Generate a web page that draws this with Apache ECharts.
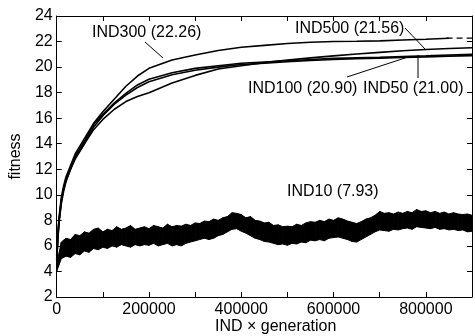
<!DOCTYPE html>
<html><head><meta charset="utf-8">
<script src="https://cdn.jsdelivr.net/npm/echarts@6/dist/echarts.min.js"></script>
<style>html,body{margin:0;padding:0;background:#fff}#c{width:475px;height:336px}</style>
</head><body><div id="c"></div>
<script>
// ---- data ----
var xs = [0, 2500, 5000, 10000, 15000, 20000, 30000, 40000, 60000, 80000, 100000, 125000, 150000, 175000, 200000, 250000, 300000, 350000, 400000, 450000, 500000, 550000, 600000, 650000, 700000, 750000, 800000, 850000, 900000];
var ind300 = [5.2, 7.0, 8.2, 9.8, 10.7, 11.4, 12.3, 13.2, 14.4, 15.6, 16.5, 17.5, 18.5, 19.3, 19.9, 20.55, 20.95, 21.3, 21.55, 21.7, 21.85, 21.95, 22.0, 22.02, 22.05, 22.12, 22.18, 22.26, null];
var ind300TailX = [845000, 900000];
var ind300Tail = [22.27, 22.27];
var ind500 = [4.8, 6.5, 7.8, 9.3, 10.3, 11.0, 12.0, 12.9, 14.0, 15.1, 15.9, 16.7, 17.3, 17.7, 18.0, 18.75, 19.35, 19.85, 20.1, 20.35, 20.55, 20.72, 20.88, 21.02, 21.15, 21.28, 21.38, 21.46, 21.52];
var ind50 = [5.0, 6.8, 8.0, 9.6, 10.5, 11.2, 12.1, 13.0, 14.2, 15.5, 16.3, 17.2, 17.95, 18.6, 19.05, 19.55, 19.9, 20.1, 20.3, 20.4, 20.5, 20.6, 20.68, 20.72, 20.76, 20.82, 20.88, 20.95, 21.0];
var ind100 = [4.9, 6.6, 7.9, 9.5, 10.4, 11.1, 12.0, 12.8, 14.0, 15.3, 16.2, 17.1, 17.8, 18.4, 18.85, 19.4, 19.75, 20.0, 20.2, 20.3, 20.42, 20.52, 20.6, 20.65, 20.7, 20.75, 20.8, 20.86, 20.9];
// IND10 noisy band: x in thousands, lower and upper envelope
var ind10Xk = [0,10,20,30,40,50,60,70,80,90,100,110,120,130,140,150,160,170,180,190,200,210,220,230,240,250,260,270,280,290,300,310,320,330,340,350,360,370,380,390,400,410,420,430,440,450,460,470,480,490,500,510,520,530,540,550,560,570,580,590,600,610,620,630,640,650,660,670,680,690,700,710,720,730,740,750,760,770,780,790,800,810,820,830,840,850,860,870,880,890,900];
var ind10Low = [4.0,5.0,5.2,5.1,5.4,5.3,5.6,5.5,5.8,5.7,5.9,5.8,6.0,5.9,6.1,6.0,5.9,6.1,6.0,6.1,6.05,6.2,6.0,6.1,6.2,6.0,6.1,6.0,6.2,6.3,6.4,6.5,6.6,6.5,6.6,6.8,6.9,7.1,7.3,7.35,7.15,7.0,6.8,6.6,6.5,6.35,6.3,6.2,6.1,6.15,6.05,6.2,6.15,6.3,6.25,6.45,6.4,6.5,6.4,6.6,6.65,6.7,6.6,6.5,6.35,6.3,6.5,6.7,6.9,7.1,7.25,7.2,7.15,7.3,7.25,7.35,7.4,7.3,7.5,7.45,7.4,7.35,7.45,7.3,7.35,7.25,7.3,7.2,7.25,7.1,7.15];
var ind10High = [4.6,6.3,6.6,6.5,6.9,6.8,7.1,7.0,7.3,7.4,7.1,7.3,7.2,7.5,7.3,7.4,7.6,7.3,7.4,7.5,7.35,7.6,7.5,7.4,7.7,7.5,7.6,7.55,7.7,7.6,7.8,7.75,7.95,7.9,8.1,8.0,8.2,8.3,8.6,8.55,8.45,8.2,8.3,8.0,7.95,7.8,7.85,7.6,7.65,7.5,7.55,7.5,7.7,7.6,7.8,7.9,7.85,8.0,7.9,8.1,8.0,8.2,8.1,7.95,7.85,7.75,7.9,8.1,8.2,8.4,8.7,8.55,8.6,8.5,8.65,8.55,8.7,8.6,8.85,8.7,8.75,8.6,8.7,8.55,8.65,8.5,8.6,8.5,8.45,8.5,8.4];
var xTicks = [0, 200000, 400000, 600000, 800000];

// ---- build ----
function pairs(x, y) { return x.map(function (v, i) { return [v, y[i]]; }); }
var ind10X = ind10Xk.map(function (v) { return v * 1000; });
var ind10Data = ind10X.map(function (v, i) { return [v, ind10Low[i], ind10High[i]]; });
var FONT = 'Liberation Sans, Arial, sans-serif';

var chart = echarts.init(document.getElementById('c'), null, { renderer: 'canvas' });
function xAx(pos, show) {
  return {
    type: 'value', min: 0, max: 900000, interval: 100000, position: pos, gridIndex: 0,
    axisLine: { show: true, onZero: false, lineStyle: { color: '#000', width: 1 } },
    axisTick: { show: true, inside: true, length: 5, lineStyle: { color: '#000' } },
    axisLabel: {
      show: show, color: '#000', fontSize: 16, fontFamily: FONT, margin: 5,
      formatter: function (v) { return xTicks.indexOf(v) >= 0 ? String(v) : ''; }
    },
    splitLine: { show: false }
  };
}
function yAx(pos, show) {
  var a = {
    type: 'value', min: 2, max: 24, interval: 2, position: pos, gridIndex: 0,
    axisLine: { show: true, onZero: false, lineStyle: { color: '#000', width: 1 } },
    axisTick: { show: true, inside: true, length: 5, lineStyle: { color: '#000' } },
    axisLabel: { show: show, color: '#000', fontSize: 16, fontFamily: FONT, margin: 4 },
    splitLine: { show: false }
  };
  if (show) {
    a.name = 'fitness'; a.nameLocation = 'middle'; a.nameGap = 25;
    a.nameTextStyle = { color: '#000', fontSize: 16, fontFamily: FONT };
  }
  return a;
}
function line(name, x, y, extra) {
  var s = {
    name: name, type: 'line', xAxisIndex: 0, yAxisIndex: 0, data: pairs(x, y),
    symbol: 'none', silent: true, animation: false,
    lineStyle: { color: '#000', width: 1.6 }
  };
  for (var k in extra) s[k] = extra[k];
  return s;
}
var txt = function (t, x, y) {
  return { type: 'text', x: x, y: y, style: { text: t, font: '16px ' + FONT, fill: '#000', verticalAlign: 'middle', align: 'left' } };
};
var seg = function (x1, y1, x2, y2) {
  return { type: 'line', shape: { x1: x1, y1: y1, x2: x2, y2: y2 }, style: { stroke: '#000', lineWidth: 1 } };
};

chart.setOption({
  animation: false,
  backgroundColor: '#fff',
  grid: { left: 54, right: 2, top: 16, bottom: 39, containLabel: false },
  xAxis: [xAx('bottom', true), xAx('top', false)],
  yAxis: [yAx('left', true), yAx('right', false)],
  series: [
    {
      name: 'IND10', type: 'custom', xAxisIndex: 0, yAxisIndex: 0, silent: true,
      data: ind10Data, encode: { x: 0, y: [1, 2] },
      renderItem: function (params, api) {
        var i = params.dataIndex;
        if (i >= ind10Data.length - 1) return null;
        var a = ind10Data[i], b = ind10Data[i + 1];
        var pts = [api.coord([a[0], a[2]]), api.coord([b[0], b[2]]), api.coord([b[0], b[1]]), api.coord([a[0], a[1]])];
        return { type: 'polygon', shape: { points: pts }, style: { fill: '#000', stroke: '#000', lineWidth: 1 } };
      }
    },
    line('IND100', xs, ind100),
    line('IND50', xs, ind50),
    line('IND500', xs, ind500),
    line('IND300', xs, ind300),
    line('IND300 tail', ind300TailX, ind300Tail, { lineStyle: { color: '#000', width: 1.2, type: [6, 4] } })
  ],
  graphic: [
    txt('IND300 (22.26)', 92, 33),
    txt('IND500 (21.56)', 295, 29),
    txt('IND100 (20.90)', 248, 89),
    txt('IND50 (21.00)', 363, 89),
    txt('IND10 (7.93)', 287, 192),
    txt('IND \u00d7 generation', 215, 327),
    seg(145, 42, 163, 58),
    seg(405, 28, 425, 49),
    seg(347, 77, 408, 57),
    seg(418, 78, 418, 55)
  ]
});
</script></body></html>
